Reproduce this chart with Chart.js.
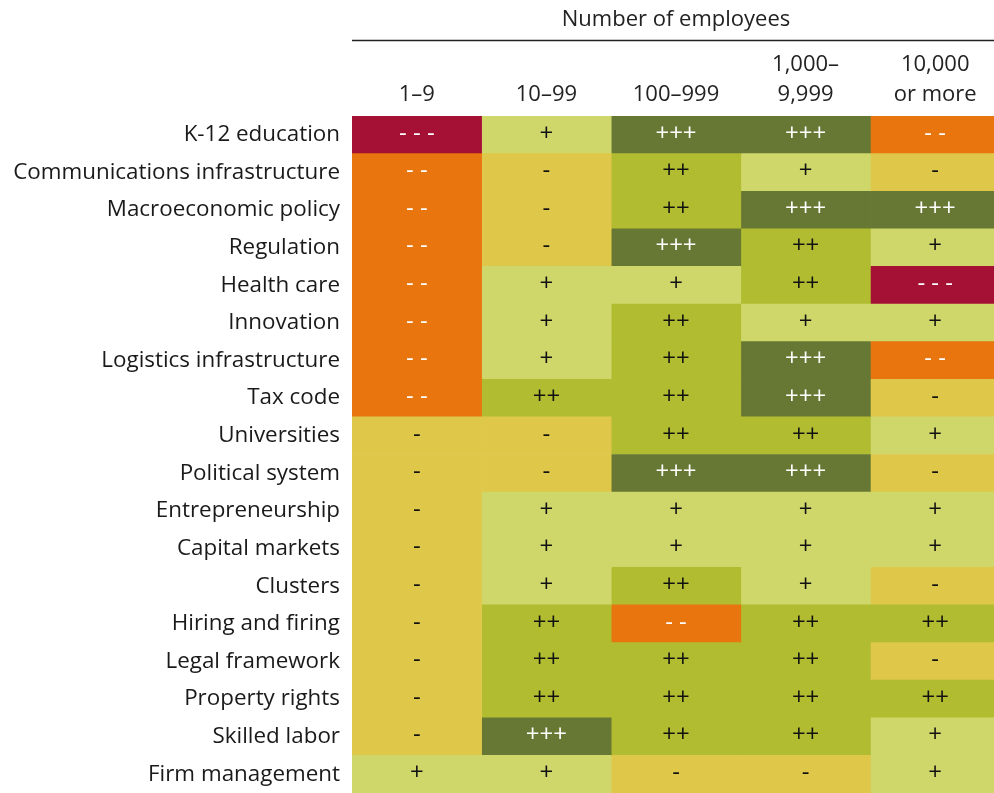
<!DOCTYPE html>
<html>
<head>
<meta charset="utf-8">
<script src="https://cdn.jsdelivr.net/npm/chart.js@4"></script>
<style>
  html, body { margin: 0; padding: 0; overflow: hidden; background: #fff; }
  #wrap { width: 1000px; height: 793px; position: relative; }
</style>
</head>
<body>
<div id="wrap"><canvas id="heatChart"></canvas></div>
<script>
const rowLabels = [
    'K-12 education', 'Communications infrastructure', 'Macroeconomic policy', 'Regulation',
    'Health care', 'Innovation', 'Logistics infrastructure', 'Tax code', 'Universities',
    'Political system', 'Entrepreneurship', 'Capital markets', 'Clusters', 'Hiring and firing',
    'Legal framework', 'Property rights', 'Skilled labor', 'Firm management'
];
const columnLabels = ['1–9', '10–99', '100–999', ['1,000–', '9,999'], ['10,000', 'or more']];

// -3 = "- - -" ... +3 = "+++"
const size1to9 =       [-3, -2, -2, -2, -2, -2, -2, -2, -1, -1, -1, -1, -1, -1, -1, -1, -1, 1];
const size10to99 =     [ 1, -1, -1, -1,  1,  1,  1,  2, -1, -1,  1,  1,  1,  2,  2,  2,  3, 1];
const size100to999 =   [ 3,  2,  2,  3,  1,  2,  2,  2,  2,  3,  1,  1,  2, -2,  2,  2,  2, -1];
const size1000to9999 = [ 3,  1,  3,  2,  2,  1,  3,  3,  2,  3,  1,  1,  1,  2,  2,  2,  2, -1];
const size10000plus =  [-2, -1,  3,  1, -3,  1, -2, -1,  1, -1,  1,  1, -1,  2, -1,  2,  1,  1];

const columns = [size1to9, size10to99, size100to999, size1000to9999, size10000plus];

const fillColors = { '-3': '#a51035', '-2': '#e8750e', '-1': '#dfc74a', '1': '#cfd76a', '2': '#b1bc31', '3': '#667833' };
const symbols = { '-3': '- - -', '-2': '- -', '-1': '-', '1': '+', '2': '++', '3': '+++' };
const FONT = "'Open Sans', sans-serif";

function textColor(v) {
    return (v === 3 || v === -3 || v === -2) ? '#ffffff' : '#111111';
}

const datasets = columns.map((values, c) => ({
    label: Array.isArray(columnLabels[c]) ? columnLabels[c].join(' ') : columnLabels[c],
    data: values.map(() => [c, c + 1]),
    scores: values,
    backgroundColor: values.map(v => fillColors[v]),
    borderWidth: 0,
    grouped: false,
    barPercentage: 1,
    categoryPercentage: 1
}));

const cellText = {
    id: 'cellText',
    afterDatasetsDraw(chart) {
        const ctx = chart.ctx;
        ctx.save();
        ctx.font = '24px ' + FONT;
        ctx.textAlign = 'center';
        ctx.textBaseline = 'middle';
        chart.data.datasets.forEach((ds, di) => {
            chart.getDatasetMeta(di).data.forEach((bar, i) => {
                const v = ds.scores[i];
                ctx.fillStyle = textColor(v);
                ctx.fillText(symbols[v], (bar.x + bar.base) / 2, bar.y - 1);
            });
        });
        ctx.restore();
    }
};

const headerRule = {
    id: 'headerRule',
    afterDraw(chart) {
        const x = chart.scales.x;
        const ctx = chart.ctx;
        ctx.save();
        ctx.strokeStyle = '#222';
        ctx.lineWidth = 1.4;
        ctx.beginPath();
        ctx.moveTo(x.left, x.top + 40.5);
        ctx.lineTo(x.right + 10, x.top + 40.5);
        ctx.stroke();
        ctx.restore();
    }
};

new Chart(document.getElementById('heatChart'), {
    type: 'bar',
    data: { labels: rowLabels, datasets: datasets },
    options: {
        indexAxis: 'y',
        responsive: true,
        maintainAspectRatio: false,
        animation: false,
        layout: { padding: 0 },
        plugins: {
            legend: { display: false },
            tooltip: { enabled: false }
        },
        scales: {
            x: {
                type: 'linear',
                position: 'top',
                min: 0,
                max: 5,
                afterBuildTicks(scale) {
                    scale.ticks = columnLabels.map((l, i) => ({ value: i + 0.5 }));
                },
                afterFit(scale) { scale.height = 116; },
                ticks: {
                    autoSkip: false,
                    maxRotation: 0,
                    padding: 6,
                    color: '#222',
                    font: { family: FONT, size: 22, lineHeight: 1.364 },
                    callback: (value, index) => columnLabels[index]
                },
                title: {
                    display: true,
                    text: 'Number of employees',
                    color: '#222',
                    font: { family: FONT, size: 22, lineHeight: 1.2 },
                    padding: { top: 7, bottom: 17 }
                },
                grid: { display: false, drawTicks: false },
                border: { display: false }
            },
            y: {
                afterFit(scale) {
                    scale.width = 352;
                    scale.paddingTop = 0;
                    scale.paddingBottom = 0;
                },
                ticks: {
                    padding: 12,
                    color: '#1a1a1a',
                    font: { family: FONT, size: 22.4 }
                },
                grid: { display: false, drawTicks: false },
                border: { display: false }
            }
        }
    },
    plugins: [cellText, headerRule]
});
</script>
</body>
</html>
